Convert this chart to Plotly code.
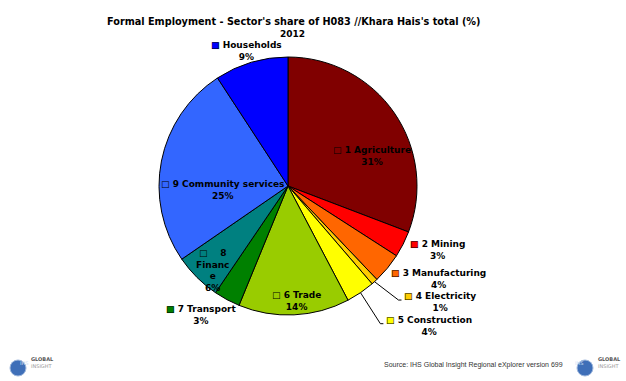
import math
import plotly.graph_objects as go

# Formal employment by sector, H083 // Khara Hais, 2012 (share of total, %)
sectors = ["1 Agriculture", "2 Mining", "3 Manufacturing", "4 Electricity", "5 Construction",
           "6 Trade", "7 Transport", "8 Finance", "9 Community services", "Households"]
shares = [30.8, 3.3, 3.8, 0.8, 3.6, 13.9, 3.3, 5.9, 25.4, 9.2]
colors = ["#800000", "#FF0000", "#FF6600", "#FFCC00", "#FFFF00",
          "#99CC00", "#008000", "#008080", "#3366FF", "#0000FF"]

W, H = 626, 381
CX, CY, R = 288, 186, 129          # pie centre and radius in pixels

# label placement: (radial factor, dx, dy, anchor, leader line)
label_style = {
    "1 Agriculture":        (0.65, 15, 18, "center", False),
    "2 Mining":             (1.15, -12, -3, "left", False),
    "3 Manufacturing":      (1.15, -13, -2, "left", False),
    "4 Electricity":        (1.15, 15, 6, "left", True),
    "5 Construction":       (1.15, 13, 17, "left", True),
    "6 Trade":              (0.65, 5, 31, "center", False),
    "7 Transport":          (1.15, -16, -2, "center", False),
    "8 Finance":            (0.65, -16, 25, "center", False),
    "9 Community services": (0.65, 17, 20, "center", False),
    "Households":           (1.15, 1, 7, "center", False),
}
display_names = {"8 Finance": "&nbsp;&nbsp;&nbsp;8<br>Financ<br>e"}


def px(x):
    return x / W


def py(y):
    return 1 - y / H


fig = go.Figure(go.Pie(
    labels=sectors, values=shares, sort=False, direction="clockwise", rotation=0,
    marker=dict(colors=colors, line=dict(color="black", width=1)),
    textinfo="none", hoverinfo="label+percent", showlegend=False,
    domain=dict(x=[px(CX - R), px(CX + R)], y=[py(CY + R), py(CY - R)]),
))

font = dict(family="DejaVu Sans", size=9, color="black", weight="bold")
total = sum(shares)
annotations, shapes = [], []
cum = 0.0
for name, val, col in zip(sectors, shares, colors):
    mid = (cum + val / 2) / total * 2 * math.pi
    cum += val
    k, dx, dy, anchor, leader = label_style[name]
    s, c = math.sin(mid), math.cos(mid)
    ax = CX + R * k * s + dx
    ay = CY - R * k * c + dy
    pct = f"{round(val / total * 100)}%"
    body = display_names.get(name, name)
    fill = (f"<span style='color:{col}'>■</span> {body}<br>{pct}")
    outline = (f"<span style='color:black'>□</span>"
               f"<span style='color:rgba(0,0,0,0)'> {body}<br>{pct}</span>")
    for txt in (fill, outline):
        annotations.append(dict(
            x=px(ax), y=py(ay), xref="paper", yref="paper", text=txt, showarrow=False,
            xanchor=anchor, yanchor="middle", align="center", font=font))
    if leader:
        ex, ey = CX + R * s, CY - R * c
        shapes.append(dict(
            type="path", xref="paper", yref="paper",
            path=f"M {px(ex)},{py(ey)} L {px(ax - 4)},{py(ay - 2)} L {px(ax - 1)},{py(ay - 2)}",
            line=dict(color="black", width=1)))

# titles
annotations.append(dict(
    x=px(293), y=py(14), xref="paper", yref="paper", showarrow=False,
    text="Formal Employment - Sector's share of H083 //Khara Hais's total (%)",
    font=dict(family="DejaVu Sans", size=9.7, color="black", weight="bold")))
annotations.append(dict(
    x=px(292), y=py(27), xref="paper", yref="paper", showarrow=False, text="2012",
    font=dict(family="DejaVu Sans", size=9, color="black", weight="bold")))

# footer: source line and logos
annotations.append(dict(
    x=px(565), y=py(371), xref="paper", yref="paper", showarrow=False, xanchor="right",
    text="Source: IHS Global Insight Regional eXplorer version 699",
    font=dict(family="Liberation Sans", size=7, color="#333333")))
for lx in (18, 585):
    shapes.append(dict(type="circle", xref="paper", yref="paper",
                       x0=px(lx - 8), x1=px(lx + 8), y0=py(376), y1=py(360),
                       fillcolor="#3f6fb8", line=dict(color="#9fb8dd", width=1)))
    annotations.append(dict(x=px(lx), y=py(368), xref="paper", yref="paper", showarrow=False,
                            text="IHS", font=dict(family="DejaVu Sans", size=5, color="#cfe0f5")))
    annotations.append(dict(x=px(lx + 11), y=py(364), xref="paper", yref="paper", showarrow=False,
                            xanchor="left", text="<b>GLOBAL</b>",
                            font=dict(family="DejaVu Sans", size=5, color="#555555")))
    annotations.append(dict(x=px(lx + 11), y=py(371), xref="paper", yref="paper", showarrow=False,
                            xanchor="left", text="INSIGHT",
                            font=dict(family="DejaVu Sans", size=5, color="#999999")))

fig.update_layout(
    width=W, height=H, margin=dict(l=0, r=0, t=0, b=0),
    paper_bgcolor="white", plot_bgcolor="white",
    annotations=annotations, shapes=shapes,
)
fig.write_html("out.html")
